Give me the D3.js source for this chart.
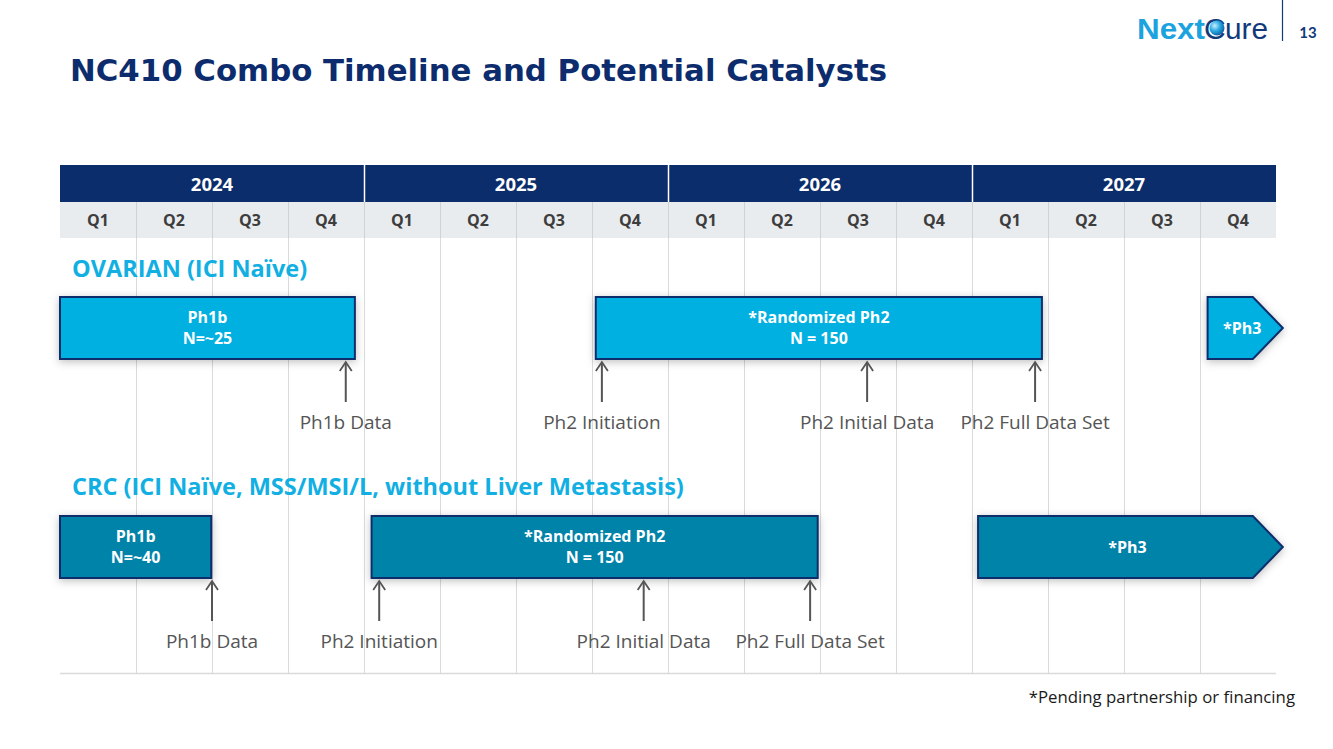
<!DOCTYPE html>
<html><head><meta charset="utf-8">
<script src="https://cdn.jsdelivr.net/npm/d3@7"></script>
<style>
html,body{margin:0;padding:0;background:#fff;}
svg{display:block;}
</style></head>
<body>
<svg id="chart" width="1333" height="749"></svg>
<script>
// ---------- data ----------
const years = ["2024", "2025", "2026", "2027"];
const quarters = ["Q1","Q2","Q3","Q4","Q1","Q2","Q3","Q4","Q1","Q2","Q3","Q4","Q1","Q2","Q3","Q4"];
const sectionLabels = ["OVARIAN (ICI Naïve)", "CRC (ICI Naïve, MSS/MSI/L, without Liver Metastasis)"];
const ovarianPhases = [
  {label1:"Ph1b", label2:"N=~25", start:0, end:3.88, arrow:false},
  {label1:"*Randomized Ph2", label2:"N = 150", start:7.05, end:12.92, arrow:false},
  {label1:"*Ph3", label2:"", start:15.1, end:16.09, arrow:true}
];
const crcPhases = [
  {label1:"Ph1b", label2:"N=~40", start:0, end:1.99, arrow:false},
  {label1:"*Randomized Ph2", label2:"N = 150", start:4.1, end:9.97, arrow:false},
  {label1:"*Ph3", label2:"", start:12.08, end:16.09, arrow:true}
];
const ovarianMilestones = [
  {label:"Ph1b Data", at:3.76},
  {label:"Ph2 Initiation", at:7.13},
  {label:"Ph2 Initial Data", at:10.62},
  {label:"Ph2 Full Data Set", at:12.83}
];
const crcMilestones = [
  {label:"Ph1b Data", at:2.0},
  {label:"Ph2 Initiation", at:4.2},
  {label:"Ph2 Initial Data", at:7.68},
  {label:"Ph2 Full Data Set", at:9.87}
];

// ---------- drawing ----------
const svg = d3.select("#chart");
const navy = "#0c2d6b";
const sky = "#00b0e0";
const teal = "#0083a9";
const x = d3.scaleLinear().domain([0, 16]).range([60, 1276]);

const defs = svg.append("defs");
const f = defs.append("filter").attr("id","shadow").attr("x","-10%").attr("y","-30%").attr("width","120%").attr("height","160%");
f.append("feDropShadow").attr("dx",0).attr("dy",2).attr("stdDeviation",4).attr("flood-color","#000").attr("flood-opacity",0.25);
const rg = defs.append("radialGradient").attr("id","ball").attr("cx","0.35").attr("cy","0.35").attr("r","0.7");
rg.append("stop").attr("offset","0").attr("stop-color","#c8eefc");
rg.append("stop").attr("offset","0.5").attr("stop-color","#2aaae2");
rg.append("stop").attr("offset","1").attr("stop-color","#0b5fa5");

// title
svg.append("text").attr("x",70).attr("y",81)
  .attr("font-family","DejaVu Sans, Verdana, sans-serif").attr("font-weight","bold")
  .attr("font-size",31).attr("fill","#0c2c6e")
  .attr("textLength",817).attr("lengthAdjust","spacingAndGlyphs")
  .text("NC410 Combo Timeline and Potential Catalysts");

// logo
const logo = svg.append("g").attr("font-family","Liberation Sans, Arial, sans-serif");
logo.append("text").attr("x",1137).attr("y",39).attr("font-size",30).attr("font-weight","bold")
  .attr("fill","#1aa3de").attr("textLength",68).attr("lengthAdjust","spacingAndGlyphs").text("Next");
logo.append("text").attr("x",1204).attr("y",39).attr("font-size",30)
  .attr("fill","#123a7a").text("C");
logo.append("circle").attr("cx",1217).attr("cy",28).attr("r",7.5).attr("fill","url(#ball)");
logo.append("text").attr("x",1225).attr("y",39).attr("font-size",30)
  .attr("fill","#123a7a").attr("textLength",43).attr("lengthAdjust","spacingAndGlyphs").text("ure");
logo.append("line").attr("x1",1282.5).attr("x2",1282.5).attr("y1",0).attr("y2",41).attr("stroke","#123a7a").attr("stroke-width",1.2);
svg.append("text").attr("x",1308).attr("y",38).attr("text-anchor","middle")
  .attr("font-family","Lato, Calibri, sans-serif").attr("font-weight","bold").attr("font-size",15)
  .attr("fill","#123a7a").text("13");

// grid lines
svg.append("g").selectAll("line").data(d3.range(1,16)).join("line")
  .attr("x1",d=>x(d)+0.5).attr("x2",d=>x(d)+0.5).attr("y1",238).attr("y2",673)
  .attr("stroke","#d9dadb").attr("stroke-width",1);
svg.append("line").attr("x1",x(0)).attr("x2",x(16)).attr("y1",673.5).attr("y2",673.5)
  .attr("stroke","#d9dadb").attr("stroke-width",1.5);

// header year row
const yr = svg.append("g");
yr.selectAll("rect").data(years).join("rect")
  .attr("x",(d,i)=>x(i*4)).attr("width",(d,i)=>x(i*4+4)-x(i*4))
  .attr("y",165).attr("height",37).attr("fill",navy);
yr.selectAll("line").data(years.slice(1)).join("line")
  .attr("x1",(d,i)=>x((i+1)*4)+0.5).attr("x2",(d,i)=>x((i+1)*4)+0.5)
  .attr("y1",165).attr("y2",202).attr("stroke","#ffffff").attr("stroke-width",1.5);
yr.selectAll("text").data(years).join("text")
  .attr("x",(d,i)=>(x(i*4)+x(i*4+4))/2).attr("y",190.5).attr("text-anchor","middle")
  .attr("font-family","Open Sans, sans-serif").attr("font-weight","bold").attr("font-size",18.5)
  .attr("fill","#fff").text(d=>d);

// quarter row
const qr = svg.append("g");
qr.selectAll("rect").data(quarters).join("rect")
  .attr("x",(d,i)=>x(i)).attr("width",(d,i)=>x(i+1)-x(i))
  .attr("y",202).attr("height",36).attr("fill","#e9ecef");
qr.selectAll("line").data(d3.range(1,16)).join("line")
  .attr("x1",d=>x(d)+0.5).attr("x2",d=>x(d)+0.5).attr("y1",202).attr("y2",238)
  .attr("stroke","#d0d3d6").attr("stroke-width",1);
qr.selectAll("text").data(quarters).join("text")
  .attr("x",(d,i)=>(x(i)+x(i+1))/2).attr("y",226).attr("text-anchor","middle")
  .attr("font-family","Open Sans, sans-serif").attr("font-weight","bold").attr("font-size",16)
  .attr("fill","#3d3d3d").text(d=>d);

// sections
function drawSection(label, labelY, phases, milestones, barTop, fill){
  svg.append("text").attr("x",72).attr("y",labelY)
    .attr("font-family","Open Sans, sans-serif").attr("font-weight","bold").attr("font-size",23.5)
    .attr("fill","#12afe3").text(label);
  const h = 62;
  const g = svg.append("g");
  phases.forEach(p=>{
    const x0 = x(p.start), x1 = x(p.end);
    let path;
    if(p.arrow){
      const notch = 30;
      path = `M${x0},${barTop}L${x1-notch},${barTop}L${x1},${barTop+h/2}L${x1-notch},${barTop+h}L${x0},${barTop+h}Z`;
    } else {
      path = `M${x0},${barTop}L${x1},${barTop}L${x1},${barTop+h}L${x0},${barTop+h}Z`;
    }
    g.append("path").attr("d",path).attr("fill",fill).attr("stroke",navy).attr("stroke-width",2)
      .attr("filter","url(#shadow)");
    const cx = p.arrow ? (x0 + x1)/2 - 3 : (x0+x1)/2;
    const lines = [p.label1, p.label2].filter(s=>s);
    const cy = barTop + h/2;
    lines.forEach((t,i)=>{
      g.append("text").attr("x",cx).attr("y",cy + (i - (lines.length-1)/2)*21 + 5.5)
        .attr("text-anchor","middle").attr("font-family","Open Sans, sans-serif")
        .attr("font-weight","bold").attr("font-size",16).attr("fill","#fff").text(t);
    });
  });
  const mg = svg.append("g");
  milestones.forEach(m=>{
    const mx = x(m.at);
    const ay0 = barTop + h + 3, ay1 = barTop + h + 43;
    mg.append("line").attr("x1",mx).attr("x2",mx).attr("y1",ay0+1).attr("y2",ay1)
      .attr("stroke","#555").attr("stroke-width",2);
    mg.append("path").attr("d",`M${mx-6},${ay0+9}L${mx},${ay0}L${mx+6},${ay0+9}`)
      .attr("fill","none").attr("stroke","#555").attr("stroke-width",1.8);
    mg.append("text").attr("x",mx).attr("y",barTop+h+70).attr("text-anchor","middle")
      .attr("font-family","Open Sans, sans-serif").attr("font-size",19).attr("fill","#555")
      .text(m.label);
  });
}
drawSection(sectionLabels[0], 277, ovarianPhases, ovarianMilestones, 297, sky);
drawSection(sectionLabels[1], 495, crcPhases, crcMilestones, 516, teal);

// footnote
svg.append("text").attr("x",1295).attr("y",703).attr("text-anchor","end")
  .attr("font-family","Open Sans, sans-serif").attr("font-size",16.8).attr("fill","#1a1a1a")
  .text("*Pending partnership or financing");
</script>
</body></html>
